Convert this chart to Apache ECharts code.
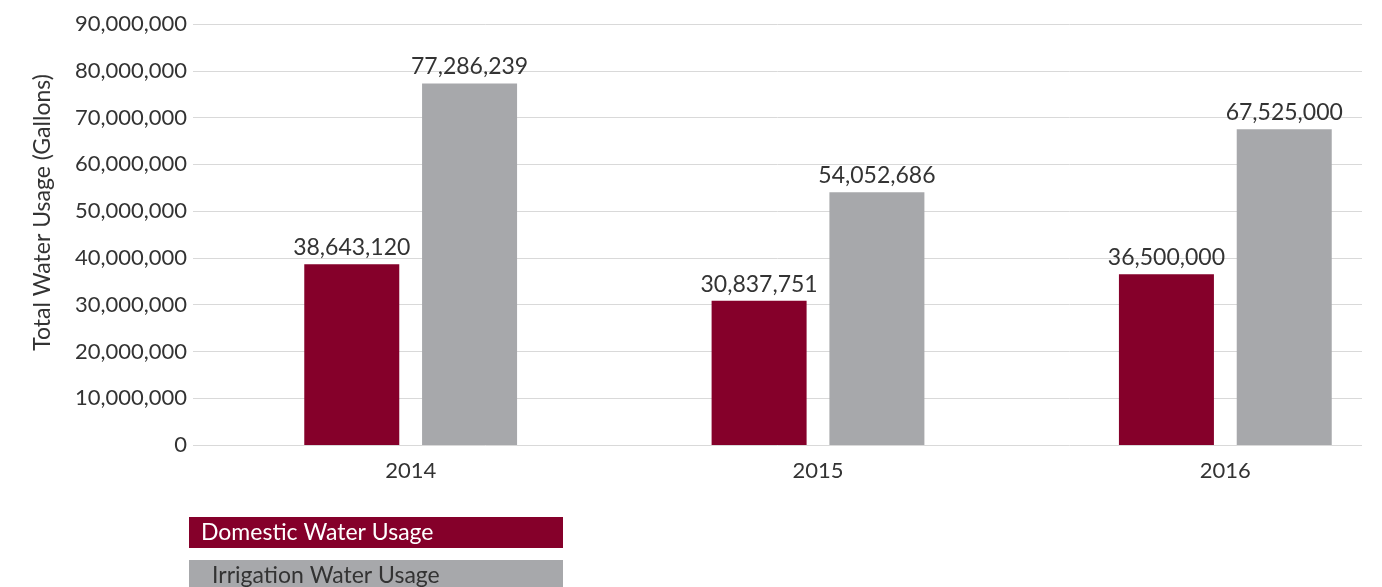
<!DOCTYPE html>
<html><head><meta charset="utf-8">
<script src="https://cdn.jsdelivr.net/npm/echarts@6/dist/echarts.min.js"></script>
<style>html,body{margin:0;padding:0;background:#fff}#c{width:1382px;height:587px}</style>
</head><body><div id="c"></div>
<script>
const categories = ['2014', '2015', '2016'];
const domestic = [38643120, 30837751, 36500000];
const irrigation = [77286239, 54052686, 67525000];
const seriesNames = ['Domestic Water Usage', 'Irrigation Water Usage'];
const yAxisTitle = 'Total Water Usage (Gallons)';
const yMax = 90000000, yStep = 10000000;

const FONT = 'Lato';
const fmt = v => v.toLocaleString('en-US');
const chart = echarts.init(document.getElementById('c'));
const colors = ['#85002A', '#A7A8AB'];
function legendFor(i, top) {
  return {
    data: [seriesNames[i]], left: 184, top: top, icon: 'rect', itemWidth: 0, itemHeight: 0, itemGap: 0,
    padding: 0, selectedMode: false,
    textStyle: {
      fontFamily: FONT, fontSize: 23, color: i === 0 ? '#ffffff' : '#333333',
      backgroundColor: colors[i], width: i === 0 ? 362 : 351, height: 31, lineHeight: 31,
      padding: [0, 0, 0, i === 0 ? 12 : 23]
    }
  };
}
const labelStyle = { show: true, position: 'top', distance: 5, fontFamily: FONT, fontSize: 23, color: '#333', formatter: p => fmt(p.value) };
chart.setOption({
  animation: false,
  legend: [legendFor(0, 517), legendFor(1, 560)],
  grid: [
    { left: 193, right: 20, top: 24, bottom: 142, outerBoundsMode: 'none' },
    { left: 207, width: 1222, top: 24, bottom: 142, outerBoundsMode: 'none' }
  ],
  xAxis: [
    { type: 'category', gridIndex: 0, data: categories, show: false },
    { type: 'category', gridIndex: 1, data: categories, axisLine: { show: false }, axisTick: { show: false },
      axisLabel: { fontFamily: FONT, fontSize: 22, color: '#333', margin: 15 } }
  ],
  yAxis: [
    { type: 'value', gridIndex: 0, min: 0, max: yMax, interval: yStep,
      name: yAxisTitle, nameLocation: 'middle', nameGap: 139, nameRotate: 90,
      nameTextStyle: { fontFamily: FONT, fontSize: 23, color: '#333', padding: [0, 0, 0, 44] },
      axisLine: { show: false }, axisTick: { show: false },
      axisLabel: { fontFamily: FONT, fontSize: 22, color: '#333', margin: 6, formatter: fmt },
      splitLine: { lineStyle: { color: '#d9d9d9', width: 1 } } },
    { type: 'value', gridIndex: 1, min: 0, max: yMax, interval: yStep, show: false, splitLine: { show: false } }
  ],
  series: [
    { name: seriesNames[0], type: 'bar', xAxisIndex: 1, yAxisIndex: 1, data: domestic, barWidth: 95, barGap: '24%',
      itemStyle: { color: colors[0] }, label: labelStyle },
    { name: seriesNames[1], type: 'bar', xAxisIndex: 1, yAxisIndex: 1, data: irrigation, barWidth: 95, barGap: '24%',
      itemStyle: { color: colors[1] }, label: labelStyle }
  ]
});
</script></body></html>
